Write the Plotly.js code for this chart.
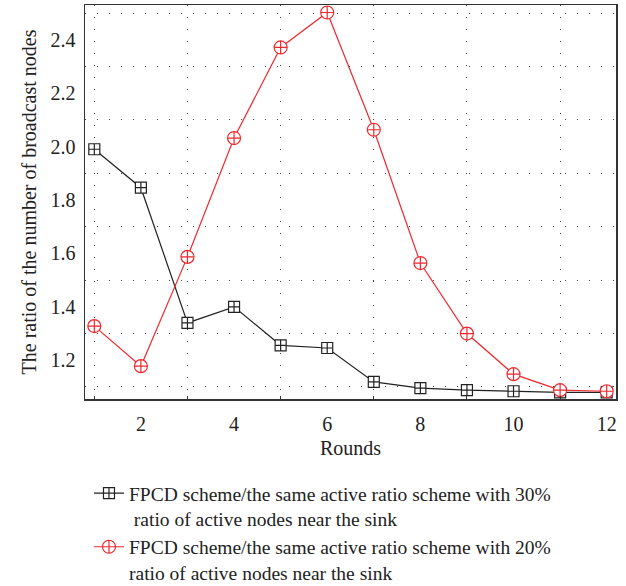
<!DOCTYPE html>
<html>
<head>
<meta charset="utf-8">
<script src="https://cdn.plot.ly/plotly-3.0.1.min.js"></script>
<style>html,body{margin:0;padding:0;background:#fff;}</style>
</head>
<body>
<div id="chart" style="width:626px;height:586px;"></div>
<script>
const rounds = [1,2,3,4,5,6,7,8,9,10,11,12];
const series30 = [1.99,1.846,1.34,1.40,1.256,1.246,1.119,1.096,1.088,1.084,1.08,1.08];
const series20 = [1.328,1.178,1.587,2.032,2.371,2.502,2.063,1.564,1.30,1.148,1.088,1.084];
const name30 = "FPCD scheme/the same active ratio scheme with 30%<br>&nbsp;ratio of active nodes near the sink";
const name20 = "FPCD scheme/the same active ratio scheme with 20%<br>ratio of active nodes near the sink";
const xTicks = [2,4,6,8,10,12];
const xGrid = [1,3,5,7,9,11];
const yTicks = [1.2,1.4,1.6,1.8,2.0,2.2,2.4];
const yTickText = ["1.2","1.4","1.6","1.8","2.0","2.2","2.4"];
const yGrid = [1.1,1.3,1.5,1.7,1.9,2.1,2.3,2.5];

const font = "Liberation Serif, Times New Roman, serif";
const traces = [
  {x: rounds, y: series30, name: name30, mode: 'lines+markers', type: 'scatter',
   line: {color: '#222', width: 1.2},
   marker: {symbol: 'square-cross', size: 11, color: '#fff', line: {color: '#222', width: 1.2}}},
  {x: rounds, y: series20, name: name20, mode: 'lines+markers', type: 'scatter',
   line: {color: '#f0282d', width: 1.2},
   marker: {symbol: 'circle-cross', size: 13, color: '#fff', line: {color: '#f0282d', width: 1.2}}}
];
const gridStyle = {showgrid: true, gridcolor: '#444', gridwidth: 1, griddash: '1px,11px'};
const layout = {
  width: 626, height: 586,
  margin: {l: 85, r: 10, t: 5, b: 187, autoexpand: false},
  paper_bgcolor: '#fff', plot_bgcolor: '#fff',
  font: {family: font, size: 20, color: '#222'},
  showlegend: true,
  xaxis: {
    range: [0.8, 12.2], tickmode: 'array', tickvals: xTicks,
    showgrid: false, zeroline: false, showline: true, linecolor: '#333', linewidth: 1.5, mirror: true,
    ticks: '', tickfont: {size: 20}, ticklabelstandoff: 6,
    minor: Object.assign({tickmode: 'array', tickvals: xGrid, ticks: 'inside', ticklen: 3, tickcolor: '#333'}, gridStyle),
    title: {text: 'Rounds', font: {size: 20}, standoff: 7}
  },
  yaxis: {
    range: [1.055, 2.53], tickmode: 'array', tickvals: yTicks, ticktext: yTickText,
    showgrid: false, zeroline: false, showline: true, linecolor: '#333', linewidth: 1.5, mirror: true,
    ticks: '', tickfont: {size: 20}, ticklabelstandoff: 4,
    minor: Object.assign({tickmode: 'array', tickvals: yGrid, ticks: ''}, gridStyle),
    title: {text: 'The ratio of the number of broadcast nodes', font: {size: 20}, standoff: 8}
  },
  legend: {
    x: 0.0075, xanchor: 'left', y: -0.19, yanchor: 'top', valign: 'top',
    font: {size: 19.5, family: font, color: '#222'},
    bgcolor: 'rgba(0,0,0,0)', tracegroupgap: 6, itemwidth: 30
  }
};
Plotly.newPlot('chart', traces, layout, {displayModeBar: false, staticPlot: true});
</script>
</body>
</html>
